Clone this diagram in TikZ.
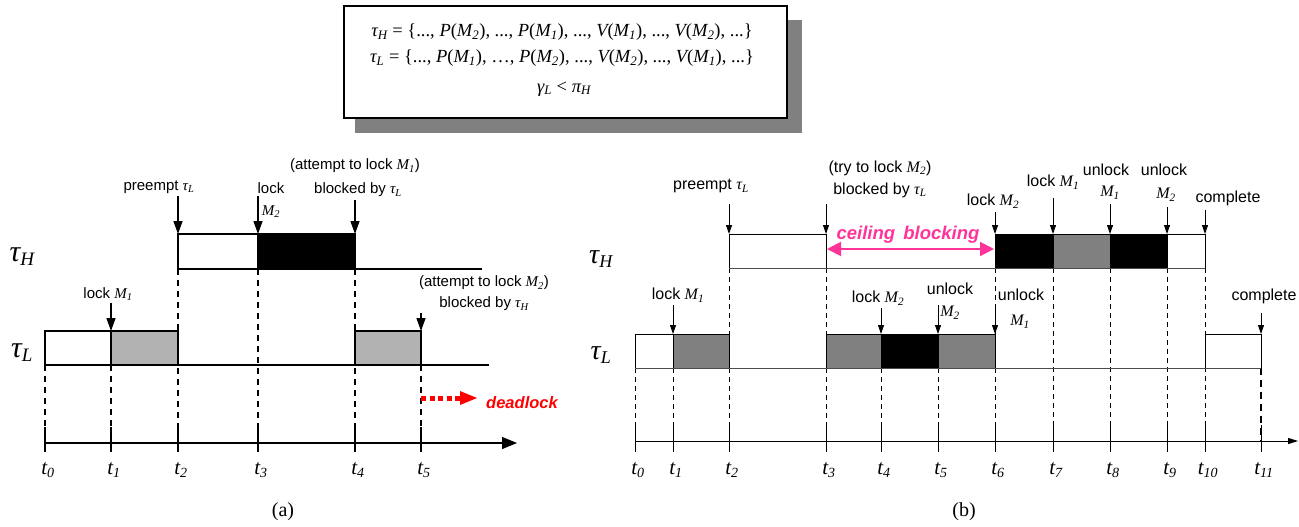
\documentclass[tikz,border=0pt]{standalone}
\usepackage{fontspec}
\setmainfont{Liberation Serif}
\setsansfont{Liberation Sans}
\usetikzlibrary{arrows.meta}
\definecolor{lgray}{RGB}{178,178,178}
\definecolor{dgray}{RGB}{128,128,128}
\definecolor{hpink}{RGB}{255,51,153}
\newcommand\mi[1]{{\rmfamily\itshape #1}}
\newcommand\ms[2]{{\rmfamily\itshape #1\textsubscript{#2}}}
\begin{document}
\begin{tikzpicture}[x=1pt,y=-1pt,
  lbl/.style={font=\fontsize{15}{17}\selectfont\sffamily, inner sep=0pt},
  lblb/.style={font=\fontsize{16}{18}\selectfont\sffamily, inner sep=0pt},
  tlbl/.style={font=\fontsize{21}{24}\selectfont\rmfamily\itshape, inner sep=0pt},
  biglbl/.style={font=\fontsize{30}{32}\selectfont\rmfamily\itshape, inner sep=0pt},
  biglblb/.style={font=\fontsize{28}{30}\selectfont\rmfamily\itshape, inner sep=0pt},
  captxt/.style={font=\fontsize{20}{24}\selectfont\rmfamily, inner sep=0pt},
  hdr/.style={font=\fontsize{18.5}{22}\selectfont, inner sep=0pt},
  boxa/.style={draw=black, line width=1.4pt},
  boxb/.style={draw=black, line width=0.8pt},
  dasha/.style={line width=1.4pt, dash pattern=on 6pt off 5pt},
  dashb/.style={line width=0.6pt, dash pattern=on 5pt off 4pt},
  arra/.style={line width=1.3pt, -{Triangle[length=13pt,width=9pt]}},
  arrb/.style={line width=0.8pt, -{Triangle[length=9pt,width=6pt]}},
]
\useasboundingbox (0,0) rectangle (1299,527);

% ---------- header box ----------
\fill[dgray] (355,20) rectangle (802,133);
\draw[fill=white, line width=1.6pt] (344,6) rectangle (787,118);
\node[hdr] (h1) at (562,32)
  {\ms{τ}{H} = \{..., \mi{P}(\ms{M}{2}), ..., \mi{P}(\ms{M}{1}), ..., \mi{V}(\ms{M}{1}), ..., \mi{V}(\ms{M}{2}), ...\}};
\node[hdr] (h2) at (562,58)
  {\ms{τ}{L} = \{..., \mi{P}(\ms{M}{1}), …, \mi{P}(\ms{M}{2}), ..., \mi{V}(\ms{M}{2}), ..., \mi{V}(\ms{M}{1}), ...\}};
\node[hdr] (h3) at (564,89)
  {\ms{γ}{L} < \ms{π}{H}};

% =================== (a) ===================
\node[biglbl] (aH) at (22,257) {τ\textsubscript{\fontsize{19}{19}\selectfont H}};
\node[biglbl] (aL) at (22,353) {τ\textsubscript{\fontsize{19}{19}\selectfont L}};

% dashed guides
\foreach \x in {45,111} \draw[dasha] (\x,365) -- (\x,443);
\foreach \x in {178,258,355} \draw[dasha] (\x,269) -- (\x,443);
\draw[dasha] (421,365) -- (421,443);

% tau_H
\draw[boxa, fill=white] (178,234) rectangle (258,269);
\draw[boxa, fill=black] (258,234) rectangle (355,269);
\draw[line width=1.4pt] (178,269) -- (482,269);
% tau_L
\draw[boxa, fill=white] (45,331) rectangle (111,365);
\draw[boxa, fill=lgray] (111,331) rectangle (178,365);
\draw[boxa, fill=lgray] (355,331) rectangle (421,365);
\draw[line width=1.4pt] (45,365) -- (489,365);

% axis
\draw[line width=1.2pt, -{Triangle[length=15pt,width=12pt]}] (45,443) -- (517,443);
\foreach \x in {45,111,178,258,355,421} \draw[line width=1.2pt] (\x,427) -- (\x,452);
\foreach \x/\i in {45/0,111/1,178/2,258/3,355/4,421/5}
  \node[tlbl] (ta\i) at (\x+3,470) {t\textsubscript{\fontsize{14}{14}\selectfont\i}};

% annotations
\node[lbl] (pre) at (159,187) {preempt \ms{τ}{L}};
\draw[arra] (178,196) -- (178,234);
\node[lbl] (lk2a) at (271,188) {lock};
\node[lbl] (lk2b) at (271,212) {\ms{M}{2}};
\draw[arra] (258,196) -- (258,234);
\node[lbl] (at1) at (355,166) {(attempt to lock \ms{M}{1})};
\node[lbl] (bl1) at (358,190) {blocked by \ms{τ}{L}};
\draw[arra] (355,200) -- (355,234);
\node[lbl] (lk1) at (108,294) {lock \ms{M}{1}};
\draw[arra] (111,303) -- (111,331);
\node[lbl] (at2) at (484,283) {(attempt to lock \ms{M}{2})};
\node[lbl] (bl2) at (484,304) {blocked by \ms{τ}{H}};
\draw[arra] (421,313) -- (421,331);

\draw[red, line width=5pt, dash pattern=on 5pt off 3.5pt] (421,398) -- (461,398);
\fill[red] (477,398) -- (460,391) -- (460,405) -- cycle;
\node[lbl, red, font=\fontsize{16.5}{18}\selectfont\sffamily\bfseries\itshape] (dl) at (522,403) {deadlock};

\node[captxt] (ca) at (283,512) {(a)};

% =================== (b) ===================
\node[biglblb] (bH) at (601,259) {τ\textsubscript{\fontsize{18}{18}\selectfont H}};
\node[biglblb] (bL) at (601,355) {τ\textsubscript{\fontsize{18}{18}\selectfont L}};

% dashed guides
\foreach \x in {635,673,881,938} \draw[dashb] (\x,368) -- (\x,441);
\foreach \x in {729,826,995} {\draw[dashb] (\x,268) -- (\x,334); \draw[dashb] (\x,368) -- (\x,441);}
\foreach \x in {1053,1110,1167,1205} \draw[dashb] (\x,268) -- (\x,441);
\draw[line width=1.2pt, dash pattern=on 7pt off 5pt] (1261,368) -- (1261,441);

% tau_H
\draw[boxb, fill=white] (729,234) rectangle (826,268);
\draw[boxb, fill=black] (995,234) rectangle (1053,268);
\draw[boxb, fill=dgray] (1053,234) rectangle (1110,268);
\draw[boxb, fill=black] (1110,234) rectangle (1167,268);
\draw[boxb, fill=white] (1167,234) rectangle (1205,268);
\draw[line width=1pt, draw=black!70] (729,268) -- (1205,268);
% tau_L
\draw[boxb, fill=white] (635,334) rectangle (673,368);
\draw[boxb, fill=dgray] (673,334) rectangle (729,368);
\draw[boxb, fill=dgray] (826,334) rectangle (881,368);
\draw[boxb, fill=black] (881,334) rectangle (938,368);
\draw[boxb, fill=dgray] (938,334) rectangle (995,368);
\draw[boxb, fill=white] (1205,334) rectangle (1261,368);
\draw[line width=1pt, draw=black!70] (635,368) -- (1261,368);

% axis
\draw[line width=1pt, -{Triangle[length=10pt,width=6pt]}] (635,441) -- (1298,441);
\foreach \x in {635,673,729,826,881,938,995,1053,1110,1167,1205,1261} \draw[line width=0.8pt] (\x,425) -- (\x,452);
\foreach \x/\i in {635/0,673/1,729/2,826/3,881/4,938/5,995/6,1053/7,1110/8,1167/9,1205/10,1261/11}
  \node[tlbl] (tb\i) at (\x+3,470) {t\textsubscript{\fontsize{14}{14}\selectfont\i}};

% ceiling blocking
\draw[hpink, line width=2pt, {Triangle[length=14pt,width=14pt]}-{Triangle[length=14pt,width=14pt]}] (827,249) -- (994,249);
\node[lbl, hpink, font=\fontsize{18.5}{20}\selectfont\sffamily\bfseries\itshape] (cb) at (908,235) {ceiling\, blocking};

% annotations tau_H
\node[lblb] (bpre) at (711,186) {preempt \ms{τ}{L}};
\draw[arrb] (729,204) -- (729,234);
\node[lblb] (btry) at (880,168) {(try to lock \ms{M}{2})};
\node[lblb] (bbl) at (880,190) {blocked by \ms{τ}{L}};
\draw[arrb] (826,204) -- (826,234);
\node[lblb] (blk2) at (993,201) {lock \ms{M}{2}};
\draw[arrb] (995,212) -- (995,234);
\node[lblb] (blk1) at (1053,182) {lock \ms{M}{1}};
\draw[arrb] (1053,198) -- (1053,234);
\node[lblb] (bul1) at (1106,170) {unlock};
\node[lblb] (bul1m) at (1110,193) {\ms{M}{1}};
\draw[arrb] (1110,204) -- (1110,234);
\node[lblb] (bul2) at (1164,170) {unlock};
\node[lblb] (bul2m) at (1166,195) {\ms{M}{2}};
\draw[arrb] (1167,207) -- (1167,234);
\node[lblb] (bcp) at (1228,198) {complete};
\draw[arrb] (1205,210) -- (1205,234);

% annotations tau_L
\node[lblb] (blk1L) at (678,295) {lock \ms{M}{1}};
\draw[arrb] (673,305) -- (673,334);
\node[lblb] (blk2L) at (878,298) {lock \ms{M}{2}};
\draw[arrb] (881,308) -- (881,334);
\node[lblb] (bul2L) at (950,289) {unlock};
\node[lblb] (bul2Lm) at (950,313) {\ms{M}{2}};
\draw[arrb] (938,305) -- (938,334);
\node[lblb] (bul1L) at (1021,295) {unlock};
\node[lblb] (bul1Lm) at (1020,322) {\ms{M}{1}};
\draw[arrb] (995,305) -- (995,334);
\node[lblb] (bcpL) at (1264,296) {complete};
\draw[arrb] (1261,313) -- (1261,334);

\node[captxt] (cbb) at (964,512) {(b)};
\end{tikzpicture}
\end{document}
